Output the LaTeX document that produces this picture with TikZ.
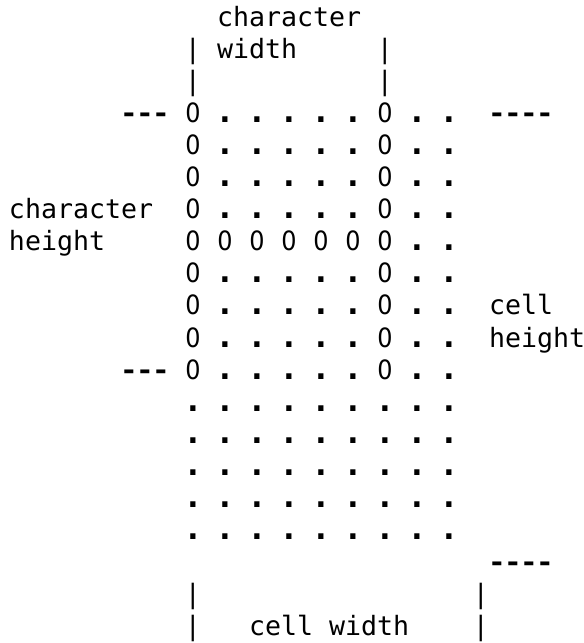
\documentclass[tikz,border=0pt]{standalone}
\usepackage{fontspec}
\setmonofont{DejaVu Sans Mono}
\newfontfamily\zerofont{DejaVu Sans}
% a zero as a plain narrow oval, a heavy dot and a dash, each one cell wide
\newcommand\gzero{\makebox[0.602em]{\zerofont\scalebox{0.9}[1]{0}}}
\newcommand\gdot{\makebox[0.602em]{\bfseries\scalebox{1.2}{.}}}
\newcommand\gdash{\makebox[0.602em]{\bfseries\scalebox{1.1}[1]{-}}}
\begin{document}
\begin{tikzpicture}[x=1pt,y=1pt,
  every node/.style={inner sep=0pt, outer sep=0pt,
    font=\ttfamily\fontsize{26.6pt}{32pt}\selectfont},
  txt/.style={anchor=base west},
  cellglyph/.style={anchor=base}]
\fill[white] (0,0) rectangle (584,-643);
\useasboundingbox (0,0) rectangle (584,-643);
% character grid: one unit = one monospace cell, one line
\begin{scope}[shift={(9pt,-26pt)}, x=16pt, y=-32.1pt]
  % character width label
  \node[txt] (cwa) at (13,0) {character};
  \node[txt] (cwb) at (13,1) {width};
  \node[cellglyph] (cwl1) at (11.5,1) {|};
  \node[cellglyph] (cwr1) at (23.5,1) {|};
  \node[cellglyph] (cwl2) at (11.5,2) {|};
  \node[cellglyph] (cwr2) at (23.5,2) {|};
  % character height label and marks
  \node[txt] (chtop) at (7,3) {\gdash\gdash\gdash};
  \node[txt] (chbot) at (7,11) {\gdash\gdash\gdash};
  \node[txt] (cha) at (0,6) {character};
  \node[txt] (chb) at (0,7) {height};
  % cell height label and marks
  \node[txt] (cltop) at (30,3) {\gdash\gdash\gdash\gdash};
  \node[txt] (clbot) at (30,17) {\gdash\gdash\gdash\gdash};
  \node[txt] (cla) at (30,9) {cell};
  \node[txt] (clb) at (30,10) {height};
  % cell width label
  \node[cellglyph] (cwdl1) at (11.5,18) {|};
  \node[cellglyph] (cwdr1) at (29.5,18) {|};
  \node[cellglyph] (cwdl2) at (11.5,19) {|};
  \node[cellglyph] (cwdr2) at (29.5,19) {|};
  \node[txt] (cwd) at (15,19) {cell width};
  % the dot matrix of the cell
  \foreach \r in {0,...,13}{
    \foreach \j in {0,...,8}{
      \pgfmathtruncatemacro\z{and(\r<9, or(or(\j==0,\j==6), and(\r==4,\j<7)))}
      \ifnum\z=1
        \node[cellglyph] (g-\r-\j) at (11.5+2*\j, 3+\r) {\gzero};
      \else
        \node[cellglyph] (g-\r-\j) at (11.5+2*\j, 3+\r) {\gdot};
      \fi
    }
  }
\end{scope}
\end{tikzpicture}
\end{document}
